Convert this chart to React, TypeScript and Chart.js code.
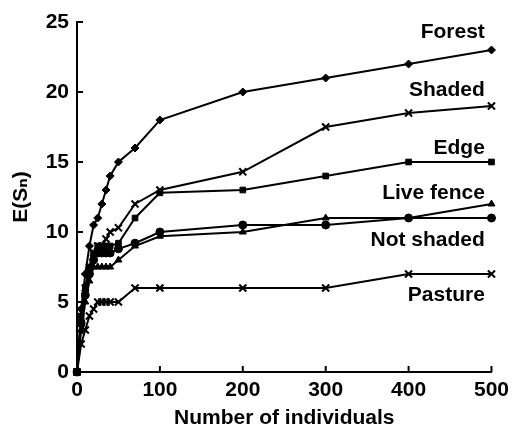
import React, { useEffect, useRef } from "react";
import { Chart, registerables } from "chart.js";
Chart.register(...registerables);

// Number of individuals (x)
const individuals = [0, 5, 10, 15, 20, 25, 30, 35, 40, 50, 70, 100, 200, 300, 400, 500];

// Expected species E(Sn)
const forest = [0, 4.5, 7, 9, 10.5, 11, 12, 13, 14, 15, 16, 18, 20, 21, 22, 23];
const shaded = [0, 3.5, 6, 7.5, 8.5, 9, 9, 9.5, 10, 10.3, 12, 13, 14.3, 17.5, 18.5, 19];
const edge = [0, 4, 6, 7.5, 8.5, 9, 9, 9, 9, 9.2, 11, 12.8, 13, 14, 15, 15];
const liveFence = [0, 3, 5, 6.5, 7.5, 7.5, 7.5, 7.5, 7.5, 8, 9, 9.7, 10, 11, 11, 12];
const notShaded = [0, 3.5, 5.5, 7, 8, 8.5, 8.5, 8.5, 8.5, 8.8, 9.2, 10, 10.5, 10.5, 11, 11];
const pasture = [0, 2, 3, 4, 4.5, 5, 5, 5, 5, 5, 6, 6, 6, 6, 7, 7];

const seriesNames = ["Forest", "Shaded", "Edge", "Live fence", "Not shaded", "Pasture"];
const seriesValues = [forest, shaded, edge, liveFence, notShaded, pasture];
const seriesMarkers = ["rectRot", "crossRot", "rect", "triangle", "circle", "crossRot"];

// curve labels, anchored in data units (right end x, vertical centre y)
const labelAnchorX = 492;
const labelAnchorY = [24.3, 20.1, 16, 12.8, 9.4, 5.5];

const xTicks = [0, 100, 200, 300, 400, 500];
const yTicks = [0, 5, 10, 15, 20, 25];

const FONT = "'Liberation Sans', Arial, Helvetica, 'DejaVu Sans', sans-serif";

export default function App() {
  const ref = useRef<HTMLCanvasElement | null>(null);
  useEffect(() => {
    document.body.style.margin = "0";
    const canvas = ref.current;
    if (!canvas) return;

    const innerTicks = {
      id: "innerTicks",
      afterDraw(chart: any) {
        const { ctx, scales } = chart;
        const xs = scales.x;
        const ys = scales.y;
        ctx.save();
        ctx.strokeStyle = "#000";
        ctx.lineWidth = 2;
        const x0 = xs.getPixelForValue(0);
        const y0 = ys.getPixelForValue(0);
        yTicks.forEach((v) => {
          const y = ys.getPixelForValue(v);
          ctx.beginPath();
          ctx.moveTo(x0, y);
          ctx.lineTo(x0 + 6, y);
          ctx.stroke();
        });
        xTicks.forEach((v) => {
          const x = xs.getPixelForValue(v);
          ctx.beginPath();
          ctx.moveTo(x, y0);
          ctx.lineTo(x, y0 - 6);
          ctx.stroke();
        });
        // curve labels
        ctx.fillStyle = "#000";
        ctx.font = `bold 21px ${FONT}`;
        ctx.textAlign = "right";
        ctx.textBaseline = "middle";
        seriesNames.forEach((name, i) => {
          ctx.fillText(name, xs.getPixelForValue(labelAnchorX), ys.getPixelForValue(labelAnchorY[i]));
        });
        ctx.restore();
      },
    };

    const chart = new Chart(canvas, {
      type: "line",
      data: {
        datasets: seriesNames.map((name, i) => ({
          label: name,
          data: individuals.map((x, j) => ({ x, y: seriesValues[i][j] })),
          borderColor: "#000",
          backgroundColor: "#000",
          borderWidth: 2,
          pointStyle: seriesMarkers[i] as any,
          pointRadius: seriesMarkers[i] === "crossRot" ? 5 : 4,
          pointBorderWidth: seriesMarkers[i] === "crossRot" ? 2 : 1,
          pointBorderColor: "#000",
          pointBackgroundColor: "#000",
          tension: 0,
          clip: false as any,
        })),
      },
      options: {
        animation: false,
        responsive: false,
        maintainAspectRatio: false,
        layout: { padding: { top: 22, right: 22, left: 0, bottom: 0 } },
        plugins: { legend: { display: false }, tooltip: { enabled: false } },
        scales: {
          x: {
            type: "linear",
            min: 0,
            max: 500,
            afterBuildTicks: (s: any) => {
              s.ticks = xTicks.map((v) => ({ value: v }));
            },
            afterFit: (s: any) => {
              s.height = 59;
            },
            grid: { display: false, drawTicks: false },
            border: { display: true, color: "#000", width: 2 },
            ticks: { color: "#000", padding: 6, font: { family: FONT, size: 21, weight: "bold" }, maxRotation: 0 },
            title: {
              display: true,
              text: "Number of individuals",
              color: "#000",
              font: { family: FONT, size: 21, weight: "bold", lineHeight: 1 },
              padding: { top: 0, bottom: 2 },
            },
          },
          y: {
            type: "linear",
            min: 0,
            max: 25,
            afterBuildTicks: (s: any) => {
              s.ticks = yTicks.map((v) => ({ value: v }));
            },
            afterFit: (s: any) => {
              s.width = 77;
            },
            grid: { display: false, drawTicks: false },
            border: { display: true, color: "#000", width: 2 },
            ticks: { color: "#000", padding: 8, font: { family: FONT, size: 21, weight: "bold" } },
            title: {
              display: true,
              text: "E(Sₙ)",
              color: "#000",
              font: { family: FONT, size: 21, weight: "bold", lineHeight: 1 },
              padding: { top: 11, bottom: 0 },
            },
          },
        },
      },
      plugins: [innerTicks],
    });
    return () => chart.destroy();
  }, []);

  return (
    <div style={{ width: 515, height: 431 }}>
      <canvas ref={ref} width={515} height={431} style={{ display: "block" }} />
    </div>
  );
}
